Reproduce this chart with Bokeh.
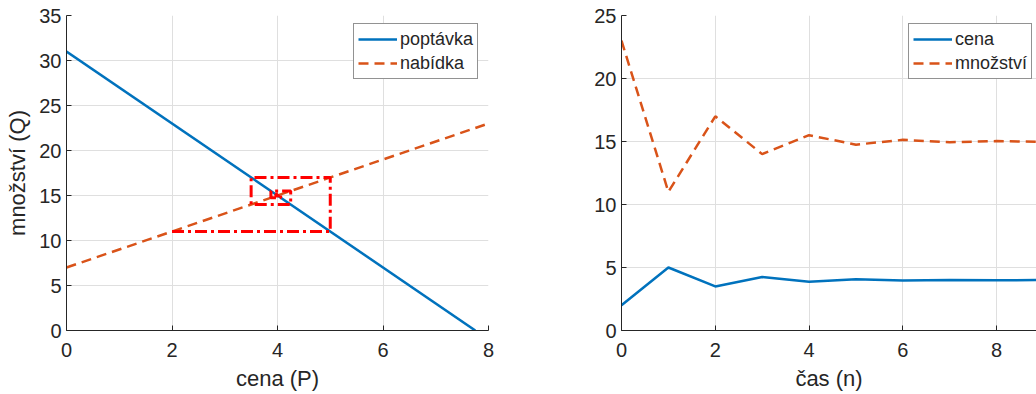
from bokeh.plotting import figure
from bokeh.layouts import row
from bokeh.models import Legend, LegendItem, Range1d, FixedTicker
from bokeh.embed import file_html
from bokeh.resources import INLINE

# ---- data ----
demand_p = [0, 7.75]
demand_q = [31, 0]
supply_p = [0, 8]
supply_q = [7, 23]

n = [0, 1, 2, 3, 4, 5, 6, 7, 8, 9, 10]
cena = [2, 5, 3.5, 4.25, 3.875, 4.06, 3.97, 4.015, 3.99, 4.005, 3.998]
mnozstvi = [23, 11, 17, 14, 15.5, 14.75, 15.13, 14.94, 15.03, 14.98, 15.01]

left_xticks = [0, 2, 4, 6, 8]
left_yticks = [0, 5, 10, 15, 20, 25, 30, 35]
right_xticks = [0, 2, 4, 6, 8]
right_yticks = [0, 5, 10, 15, 20, 25]

# cobweb path built from the time series: (P_t, Q_{t+1}) -> (P_{t+1}, Q_{t+1})
cob_p, cob_q = [], []
for t in range(len(n) - 1):
    cob_p += [cena[t], cena[t + 1]]
    cob_q += [mnozstvi[t + 1], mnozstvi[t + 1]]

FONT = "Liberation Sans"
TXT = "#262626"
BLUE = "#0072BD"
ORANGE = "#D95319"
GRID = "#DFDFDF"


def style(p, xticks, yticks):
    p.outline_line_color = None
    p.xgrid.ticker = FixedTicker(ticks=xticks)
    p.ygrid.ticker = FixedTicker(ticks=yticks)
    p.xaxis.ticker = FixedTicker(ticks=xticks)
    p.yaxis.ticker = FixedTicker(ticks=yticks)
    for g in (p.xgrid[0], p.ygrid[0]):
        g.grid_line_color = GRID
        g.grid_line_width = 1
    for ax in (p.xaxis[0], p.yaxis[0]):
        ax.axis_line_color = TXT
        ax.axis_line_width = 1
        ax.major_tick_line_color = TXT
        ax.major_tick_in = 5
        ax.major_tick_out = 0
        ax.minor_tick_line_color = None
        ax.major_label_text_font = FONT
        ax.major_label_text_font_size = "20px"
        ax.major_label_text_color = TXT
        ax.axis_label_text_font = FONT
        ax.axis_label_text_font_size = "22px"
        ax.axis_label_text_font_style = "normal"
        ax.axis_label_text_color = TXT
    p.xaxis[0].major_label_standoff = 12
    p.xaxis[0].axis_label_standoff = 6
    p.yaxis[0].major_label_standoff = 5
    p.yaxis[0].axis_label_standoff = 6


def make_legend(items, loc):
    lg = Legend(items=items, location=loc)
    lg.label_text_font = FONT
    lg.label_text_font_size = "18px"
    lg.label_text_color = TXT
    lg.border_line_color = TXT
    lg.border_line_width = 1
    lg.background_fill_color = "white"
    lg.background_fill_alpha = 1
    lg.glyph_width = 39
    lg.glyph_height = 22
    lg.label_height = 22
    lg.label_standoff = 3
    lg.spacing = 2
    lg.padding = 4
    lg.margin = 0
    return lg


# ---- left: supply / demand with cobweb ----
p1 = figure(width=560, height=394, output_backend="svg", toolbar_location=None,
            x_range=Range1d(0, 8), y_range=Range1d(0, 35),
            min_border_left=66, min_border_right=72, min_border_top=15, min_border_bottom=64)
style(p1, left_xticks, left_yticks)
p1.xaxis.axis_label = "cena (P)"
p1.yaxis.axis_label = "množství (Q)"

r_d = p1.line(demand_p, demand_q, line_color=BLUE, line_width=2.5)
r_s = p1.line(supply_p, supply_q, line_color=ORANGE, line_width=2.5, line_dash="10 6")
p1.line(cob_p, cob_q, line_color="#FF0000", line_width=3, line_dash="12 4 3 4")

p1.add_layout(make_legend([LegendItem(label="poptávka", renderers=[r_d]),
                           LegendItem(label="nabídka", renderers=[r_s])], (287, 251)))

# ---- right: time series ----
p2 = figure(width=476, height=394, output_backend="svg", toolbar_location=None,
            x_range=Range1d(0, 8.85), y_range=Range1d(0, 25),
            min_border_left=61, min_border_right=0, min_border_top=15, min_border_bottom=64)
style(p2, right_xticks, right_yticks)
p2.xaxis.axis_label = "čas (n)"

r_c = p2.line(n, cena, line_color=BLUE, line_width=2.5)
r_m = p2.line(n, mnozstvi, line_color=ORANGE, line_width=2.5, line_dash="10 6")

p2.add_layout(make_legend([LegendItem(label="cena", renderers=[r_c]),
                           LegendItem(label="množství", renderers=[r_m])], (287, 251)))

layout = row(p1, p2)
open("out.html", "w").write(file_html(layout, INLINE))
